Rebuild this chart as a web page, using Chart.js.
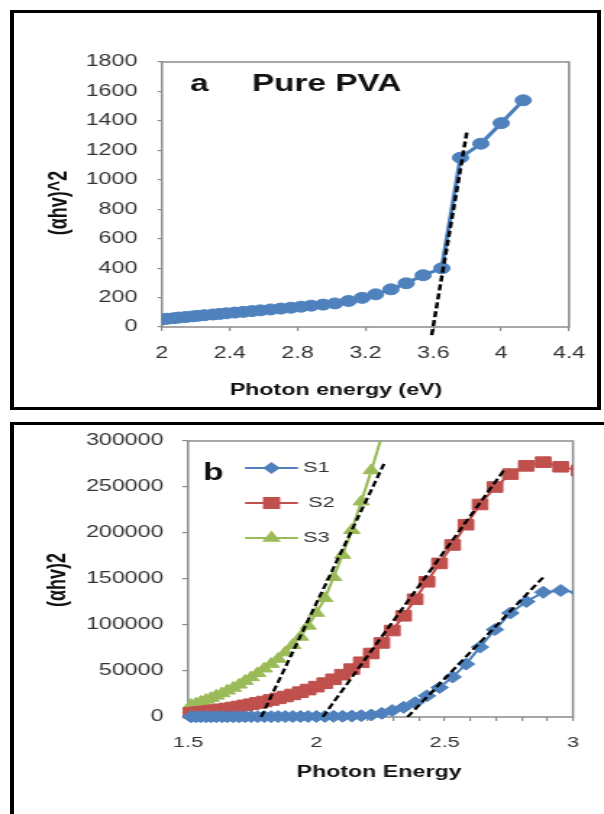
<!DOCTYPE html>
<html lang="en">
<head>
<meta charset="UTF-8" />
<title>Optical band gap - Tauc plots</title>
<script src="https://cdn.jsdelivr.net/npm/chart.js"></script>
<style>
  html, body { margin: 0; padding: 0; background: #fff; }
  body { width: 604px; height: 814px; position: relative; overflow: hidden; }
  .frame { position: absolute; border: solid #000; border-width: 3px 4px; box-sizing: border-box; }
  #frameA { left: 10px; top: 10px; width: 591px; height: 400px; }
  #frameB { left: 10px; top: 422px; width: 640px; height: 440px; }
  /* the original figure is stretched sideways, so the charts are too */
  .stretch { position: absolute; left: 0; width: 417px; transform: scaleX(1.4484); transform-origin: 0 0; }
  canvas { display: block; }
</style>
</head>
<body>

<div class="frame" id="frameA"></div>
<div class="frame" id="frameB"></div>
<div class="stretch" style="top:0"><canvas id="chartA" width="417" height="410"></canvas></div>
<div class="stretch" style="top:410px"><canvas id="chartB" width="417" height="404"></canvas></div>

<script>
  const SX = 604 / 417;
  const FONT = '"Liberation Sans", Arial, sans-serif';

  // ---- panel a : pure PVA ----
  const pvaEnergy = [2.00, 2.03, 2.07, 2.10, 2.14, 2.18, 2.21, 2.25, 2.30, 2.34, 2.38, 2.43, 2.48, 2.53, 2.58, 2.64, 2.70,
                     2.76, 2.82, 2.88, 2.95, 3.02, 3.10, 3.18, 3.26, 3.35, 3.44, 3.54, 3.65, 3.76, 3.88, 4.00, 4.13];
  const pvaValue = [52, 56, 60, 64, 68, 72, 76, 80, 85, 89, 93, 98, 103, 108, 113, 119, 125,
                    131, 138, 145, 152, 160, 177, 198, 222, 256, 297, 352, 399, 1150, 1245, 1385, 1540];
  const pvaFitEnergy = [3.59, 3.80];
  const pvaFitValue = [-55, 1340];
  const xTicksA = [2, 2.4, 2.8, 3.2, 3.6, 4, 4.4];

  // ---- panel b : S1, S2, S3 ----
  const energy = [1.512, 1.531, 1.55, 1.57, 1.59, 1.61, 1.632, 1.653, 1.676, 1.699, 1.722, 1.746, 1.771, 1.797,
                  1.824, 1.851, 1.879, 1.908, 1.938, 1.968, 2.0, 2.033, 2.067, 2.102, 2.138, 2.175, 2.214, 2.255,
                  2.296, 2.34, 2.385, 2.431, 2.48, 2.531, 2.583, 2.638, 2.696, 2.756, 2.818, 2.884, 2.952, 3.024];
  const s1 = [200, 200, 250, 250, 250, 300, 300, 300, 300, 350, 350, 350, 400, 400,
              400, 450, 450, 500, 500, 550, 600, 650, 700, 800, 1000, 1400, 2200, 4000,
              7000, 10500, 15500, 23000, 32000, 43500, 57500, 76000, 95000, 113000, 125500, 135500, 137500, 135000];
  const s2 = [4500, 5000, 5600, 6200, 6900, 7600, 8400, 9300, 10300, 11400, 12600, 13900, 15300, 16800,
              18500, 20300, 22300, 24500, 27000, 29800, 33000, 36800, 41000, 46000, 52000, 59500, 69000, 80500,
              94000, 110000, 128000, 147000, 167000, 187000, 209000, 231000, 250000, 264000, 273000, 277000, 272000, 268000];
  const s3 = [13000, 14500, 16500, 18500, 20500, 23000, 25500, 28500, 31500, 35000, 39000, 43000, 47500, 52500,
              57500, 63000, 70000, 78000, 87000, 99000, 113000, 129000, 152000, 176000, 203000, 234000, 268000, 305000];
  const fit1Energy = [2.355, 2.888], fit1Value = [0, 153000];
  const fit2Energy = [2.025, 2.73], fit2Value = [0, 268000];
  const fit3Energy = [1.785, 2.265], fit3Value = [0, 276000];
  const xTicksB = [1.5, 1.6, 1.7, 1.8, 1.9, 2, 2.1, 2.2, 2.3, 2.4, 2.5, 2.6, 2.7, 2.8, 2.9, 3];
  const xLabelsB = [1.5, 2, 2.5, 3];

  const pts = (xs, ys) => xs.map((x, i) => ({ x: x, y: ys[i] }));

  // gray box round the plot area
  const framePlugin = {
    id: 'plotFrame',
    beforeDatasetsDraw(chart) {
      const { ctx, chartArea: a } = chart;
      ctx.save();
      ctx.strokeStyle = '#8a8a8a';
      ctx.lineWidth = 1.5;
      ctx.strokeRect(a.left, a.top, a.right - a.left, a.bottom - a.top);
      ctx.restore();
    }
  };

  // free text and the inset legend; x positions given in page pixels
  const textPlugin = {
    id: 'figText',
    afterDraw(chart, args, opts) {
      const ctx = chart.ctx;
      (opts.legend || []).forEach(l => {
        ctx.save();
        ctx.strokeStyle = l.color;
        ctx.lineWidth = 2;
        ctx.beginPath();
        ctx.moveTo(l.x1 / SX, l.y);
        ctx.lineTo(l.x2 / SX, l.y);
        ctx.stroke();
        ctx.fillStyle = l.color;
        Chart.helpers.drawPoint(ctx, { pointStyle: l.style, radius: l.radius, borderWidth: 1, rotation: 0 },
          (l.x1 + l.x2) / 2 / SX, l.y);
        ctx.restore();
      });
      (opts.items || []).forEach(t => {
        ctx.save();
        ctx.font = t.font;
        ctx.fillStyle = t.color || '#111';
        ctx.textAlign = t.align || 'left';
        ctx.textBaseline = 'middle';
        ctx.translate(t.x / SX, t.y);
        if (t.rotate) ctx.rotate(-Math.PI / 2);
        ctx.fillText(t.text, 0, 0);
        ctx.restore();
      });
    }
  };

  const tickFont = size => ({ family: FONT, size: size });
  const gridOpts = len => ({ drawOnChartArea: false, tickLength: len, color: '#8a8a8a', lineWidth: 1.2 });

  new Chart(document.getElementById('chartA'), {
    type: 'scatter',
    data: {
      datasets: [
        {
          data: pts(pvaFitEnergy, pvaFitValue), showLine: true, order: 0, clip: false,
          borderColor: '#000', borderWidth: 2.5, borderDash: [6, 3], pointRadius: 0
        },
        {
          data: pts(pvaEnergy, pvaValue), showLine: true, order: 1,
          borderColor: '#4a7ebb', borderWidth: 3,
          pointStyle: 'circle', pointRadius: 5.5, pointBackgroundColor: '#4f81bd',
          pointBorderColor: '#4f81bd', pointBorderWidth: 1
        }
      ]
    },
    options: {
      responsive: false,
      animation: false,
      events: [],
      layout: { padding: { left: 0, right: 24.1, top: 62, bottom: 43 } },
      plugins: {
        legend: { display: false },
        tooltip: { enabled: false },
        figText: {
          items: [
            { text: 'a', x: 190, y: 85, font: 'bold 23px ' + FONT },
            { text: 'Pure PVA', x: 252, y: 85, font: 'bold 23px ' + FONT },
            { text: 'Photon energy (eV)', x: 336, y: 391, align: 'center', font: 'bold 16px ' + FONT },
            { text: '(αhv)^2', x: 60, y: 203, align: 'center', rotate: true, font: 'bold 18px ' + FONT }
          ]
        }
      },
      scales: {
        x: {
          type: 'linear', min: 2, max: 4.4,
          afterBuildTicks: s => { s.ticks = xTicksA.map(v => ({ value: v })); },
          afterFit: s => { s.height = 40; },
          border: { display: false },
          grid: gridOpts(4),
          ticks: { color: '#333', font: tickFont(16), padding: 13, autoSkip: false, maxRotation: 0,
                   callback: v => String(v) }
        },
        y: {
          min: 0, max: 1800,
          afterFit: s => { s.width = 111.8; },
          border: { display: false },
          grid: gridOpts(3),
          ticks: { stepSize: 200, color: '#333', font: tickFont(16), padding: 14, callback: v => String(v) }
        }
      }
    },
    plugins: [framePlugin, textPlugin]
  });

  const bClip = { left: 10, top: 0, right: 0, bottom: 10 };

  new Chart(document.getElementById('chartB'), {
    type: 'scatter',
    data: {
      datasets: [
        { data: pts(fit1Energy, fit1Value), showLine: true, order: 0, borderColor: '#000', borderWidth: 2.2, borderDash: [6, 3], pointRadius: 0 },
        { data: pts(fit2Energy, fit2Value), showLine: true, order: 0, borderColor: '#000', borderWidth: 2.2, borderDash: [6, 3], pointRadius: 0 },
        { data: pts(fit3Energy, fit3Value), showLine: true, order: 0, borderColor: '#000', borderWidth: 2.2, borderDash: [6, 3], pointRadius: 0 },
        {
          label: 'S1', data: pts(energy, s1), showLine: true, order: 1, clip: bClip,
          borderColor: '#4a7ebb', borderWidth: 2, pointStyle: 'rectRot', pointRadius: 6,
          pointBackgroundColor: '#4f81bd', pointBorderColor: '#4f81bd', pointBorderWidth: 1
        },
        {
          label: 'S2', data: pts(energy, s2), showLine: true, order: 1, clip: bClip,
          borderColor: '#be4b48', borderWidth: 2, pointStyle: 'rect', pointRadius: 7.5,
          pointBackgroundColor: '#c0504d', pointBorderColor: '#c0504d', pointBorderWidth: 1
        },
        {
          label: 'S3', data: pts(energy.slice(0, s3.length), s3), showLine: true, order: 1, clip: bClip,
          borderColor: '#98b954', borderWidth: 2, pointStyle: 'triangle', pointRadius: 6.5,
          pointBackgroundColor: '#9bbb59', pointBorderColor: '#9bbb59', pointBorderWidth: 1
        }
      ]
    },
    options: {
      responsive: false,
      animation: false,
      events: [],
      layout: { padding: { left: 0, right: 21.4, top: 31, bottom: 57 } },
      plugins: {
        legend: { display: false },
        tooltip: { enabled: false },
        figText: {
          legend: [
            { color: '#4f81bd', style: 'rectRot', radius: 4.5, x1: 245, x2: 298, y: 58 },
            { color: '#c0504d', style: 'rect', radius: 7, x1: 245, x2: 298, y: 93 },
            { color: '#9bbb59', style: 'triangle', radius: 5.5, x1: 245, x2: 298, y: 128 }
          ],
          items: [
            { text: 'b', x: 203, y: 64, font: 'bold 23px ' + FONT },
            { text: 'S1', x: 303, y: 58, color: '#333', font: '15px ' + FONT },
            { text: 'S2', x: 308, y: 93, color: '#333', font: '15px ' + FONT },
            { text: 'S3', x: 303, y: 128, color: '#333', font: '15px ' + FONT },
            { text: 'Photon Energy', x: 379, y: 363, align: 'center', font: 'bold 16px ' + FONT },
            { text: '(αhv)2', x: 58, y: 170, align: 'center', rotate: true, font: 'bold 18px ' + FONT }
          ]
        }
      },
      scales: {
        x: {
          type: 'linear', min: 1.5, max: 3,
          afterBuildTicks: s => { s.ticks = xTicksB.map(v => ({ value: v })); },
          afterFit: s => { s.height = 40; },
          border: { display: false },
          grid: gridOpts(4),
          ticks: { color: '#333', font: tickFont(15), padding: 13, autoSkip: false, maxRotation: 0,
                   callback: v => xLabelsB.includes(v) ? String(v) : '' }
        },
        y: {
          min: 0, max: 300000,
          afterFit: s => { s.width = 129.8; },
          border: { display: false },
          grid: gridOpts(4),
          ticks: { stepSize: 50000, color: '#333', font: tickFont(16), padding: 13, callback: v => String(v) }
        }
      }
    },
    plugins: [framePlugin, textPlugin]
  });
</script>
</body>
</html>
